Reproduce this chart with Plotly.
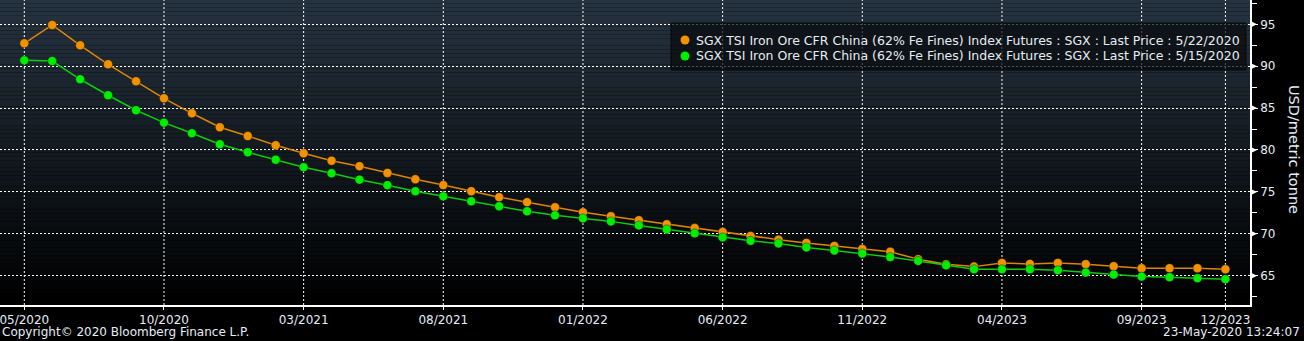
import plotly.graph_objects as go

months = [f"{y}-{m:02d}" for y in range(2020, 2024) for m in range(1, 13)][4:]  # 2020-05 .. 2023-12

price_0522 = [92.73, 94.92, 92.49, 90.23, 88.20, 86.17, 84.38, 82.71, 81.67, 80.56,
              79.61, 78.72, 78.07, 77.26, 76.51, 75.81, 75.08, 74.37, 73.77, 73.16,
              72.57, 72.09, 71.61, 71.13, 70.69, 70.21, 69.74, 69.30, 68.91, 68.55,
              68.19, 67.85, 66.96, 66.37, 66.08, 66.52, 66.40, 66.52, 66.37, 66.13,
              65.89, 65.89, 65.89, 65.77]
price_0515 = [90.70, 90.62, 88.44, 86.53, 84.74, 83.26, 81.99, 80.68, 79.73, 78.84,
              77.95, 77.22, 76.46, 75.80, 75.08, 74.47, 73.88, 73.28, 72.68, 72.20,
              71.84, 71.48, 71.00, 70.52, 70.05, 69.57, 69.16, 68.85, 68.37, 68.01,
              67.65, 67.22, 66.76, 66.25, 65.77, 65.77, 65.77, 65.65, 65.37, 65.13,
              64.89, 64.82, 64.70, 64.58]

tick_months = ["2020-05", "2020-10", "2021-03", "2021-08", "2022-01", "2022-06",
               "2022-11", "2023-04", "2023-09", "2023-12"]
y_major = [65, 70, 75, 80, 85, 90, 95]

name_a = "SGX TSI Iron Ore CFR China (62% Fe Fines) Index Futures : SGX : Last Price : 5/22/2020"
name_b = "SGX TSI Iron Ore CFR China (62% Fe Fines) Index Futures : SGX : Last Price : 5/15/2020"

ORANGE = "#f39200"
ORANGE_LINE = "#dc8608"
GREEN = "#00ee00"
GREEN_LINE = "#10cc10"
TXT = "#e6edf4"
FONT = "DejaVu Sans"

# plot-area geometry (pixels) used to place the legend box
PW, PH = 1250, 305

def px(x):
    return x / PW

def py(y):
    return 1 - y / PH

xs = list(range(len(months)))
tickvals = [months.index(m) for m in tick_months]
ticktext = [m[5:] + "/" + m[:4] for m in tick_months]

fig = go.Figure()
for nm, vals, lc, mc in [(name_a, price_0522, ORANGE_LINE, ORANGE),
                         (name_b, price_0515, GREEN_LINE, GREEN)]:
    fig.add_trace(go.Scatter(
        x=xs, y=vals, mode="lines+markers", name=nm, showlegend=False,
        line=dict(color=lc, width=1.5),
        marker=dict(color=mc, size=9, line=dict(color="rgba(0,0,0,0.35)", width=1)),
        cliponaxis=False, hoverinfo="skip",
    ))

# vertical gradient background (plot area)
shapes = []
N = 80
top = (37, 51, 64)
for i in range(N):
    f = i / (N - 1)
    c = tuple(int(round(t * (1 - f))) for t in top)
    shapes.append(dict(type="rect", xref="paper", yref="paper",
                       x0=0, x1=1, y0=1 - (i + 1) / N, y1=1 - i / N,
                       fillcolor=f"rgb{c}", line=dict(width=0), layer="below"))
# vertical dotted gridlines at the labelled months
for tv in tickvals:
    shapes.append(dict(type="line", xref="x", yref="paper", x0=tv, x1=tv, y0=0, y1=1,
                       line=dict(color="white", width=1, dash="2px,2px"), layer="below"))
# arrow-shaped major ticks on the right axis
for v in y_major:
    shapes.append(dict(type="path", xref="paper", xsizemode="pixel", xanchor=1,
                       yref="y", ysizemode="pixel", yanchor=v,
                       path="M0,-3.5 L7,0 L0,3.5 Z", fillcolor="white",
                       line=dict(width=0), layer="above"))

# legend box (drawn by hand to match the compact Bloomberg layout)
shapes.append(dict(type="rect", xref="paper", yref="paper",
                   x0=px(671), x1=px(1246), y0=py(70), y1=py(23),
                   fillcolor="rgba(8,11,14,0.72)", line=dict(color="#05080a", width=1),
                   layer="above"))
legend_rows = [(name_a, ORANGE, 40), (name_b, GREEN, 56)]
annotations = []
for nm, mc, yy in legend_rows:
    shapes.append(dict(type="circle", xref="paper", xsizemode="pixel", xanchor=px(685),
                       yref="paper", ysizemode="pixel", yanchor=py(yy),
                       x0=-4.5, x1=4.5, y0=-4.5, y1=4.5,
                       fillcolor=mc, line=dict(width=0), layer="above"))
    annotations.append(dict(text=nm, xref="paper", yref="paper", x=px(694), y=py(yy),
                            xanchor="left", yanchor="middle", showarrow=False,
                            font=dict(size=12.5, color=TXT)))

annotations += [
    dict(text="USD/metric tonne", textangle=90, xref="paper", yref="paper",
         x=px(1294), y=py(150), xanchor="center", yanchor="middle", showarrow=False,
         font=dict(size=14.5, color=TXT)),
    dict(text="Copyright© 2020 Bloomberg Finance L.P.", xref="paper", yref="paper",
         x=0.0, y=py(332), xanchor="left", yanchor="middle", showarrow=False,
         font=dict(size=12, color=TXT)),
    dict(text="23-May-2020 13:24:07", xref="paper", yref="paper",
         x=px(1302), y=py(332), xanchor="right", yanchor="middle", showarrow=False,
         font=dict(size=12, color=TXT)),
]

fig.update_layout(
    width=1304, height=341,
    margin=dict(l=0, r=54, t=0, b=36),
    paper_bgcolor="black", plot_bgcolor="rgba(0,0,0,0)",
    font=dict(family=FONT, size=12, color=TXT),
    showlegend=False,
    shapes=shapes,
    annotations=annotations,
    xaxis=dict(range=[-0.87, 43.88], tickmode="array", tickvals=tickvals, ticktext=ticktext,
               showgrid=False,
               showline=True, linecolor="white", linewidth=1.5,
               ticks="outside", ticklen=3, tickcolor="white", ticklabeloverflow="allow",
               tickfont=dict(size=12, color=TXT), zeroline=False),
    yaxis=dict(side="right", range=[61.5, 97.9], tickmode="array", tickvals=y_major,
               showgrid=True, gridcolor="white", gridwidth=1, griddash="2px,2px",
               showline=True, linecolor="white", linewidth=1.5,
               ticks="outside", ticklen=6, tickcolor="white",
               minor=dict(dtick=2.5, tick0=0, ticks="outside", ticklen=5, tickcolor="white", showgrid=False),
               tickfont=dict(size=12, color=TXT), zeroline=False),
)

fig.write_html("out.html")
